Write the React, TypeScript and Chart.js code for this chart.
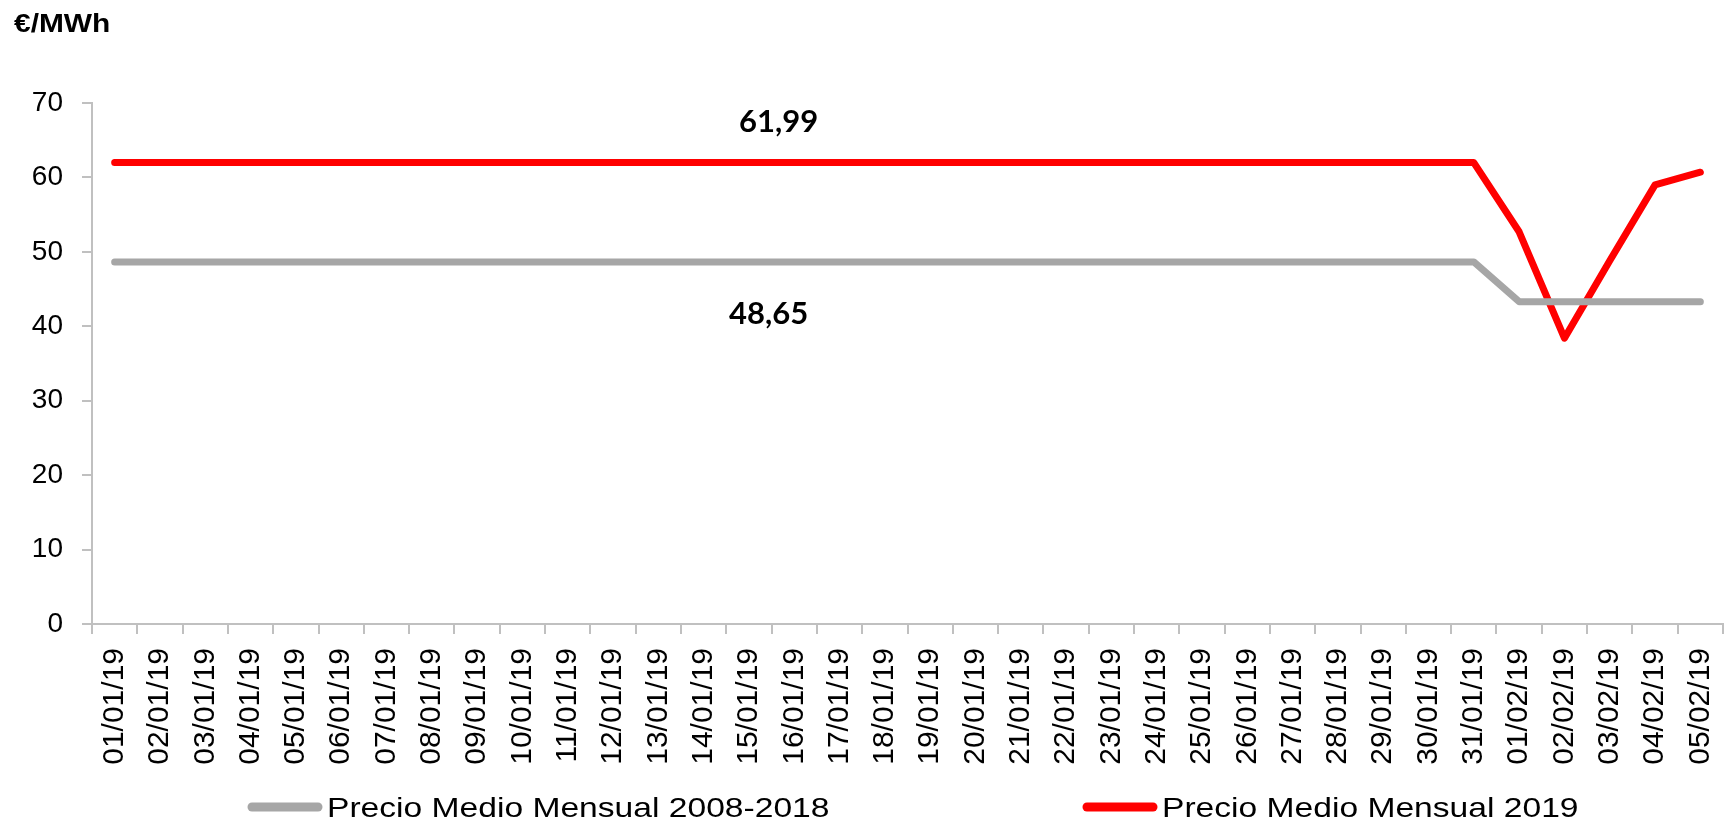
import React, { useEffect, useRef } from "react";
import { Chart, registerables } from "chart.js";

Chart.register(...registerables);

const categories = [
  "01/01/19", "02/01/19", "03/01/19", "04/01/19", "05/01/19", "06/01/19", "07/01/19",
  "08/01/19", "09/01/19", "10/01/19", "11/01/19", "12/01/19", "13/01/19", "14/01/19",
  "15/01/19", "16/01/19", "17/01/19", "18/01/19", "19/01/19", "20/01/19", "21/01/19",
  "22/01/19", "23/01/19", "24/01/19", "25/01/19", "26/01/19", "27/01/19", "28/01/19",
  "29/01/19", "30/01/19", "31/01/19", "01/02/19", "02/02/19", "03/02/19", "04/02/19",
  "05/02/19",
];

const avg20082018 = [
  48.65, 48.65, 48.65, 48.65, 48.65, 48.65, 48.65, 48.65, 48.65, 48.65, 48.65,
  48.65, 48.65, 48.65, 48.65, 48.65, 48.65, 48.65, 48.65, 48.65, 48.65, 48.65,
  48.65, 48.65, 48.65, 48.65, 48.65, 48.65, 48.65, 48.65, 48.65,
  43.3, 43.3, 43.3, 43.3, 43.3,
];

const price2019 = [
  61.99, 61.99, 61.99, 61.99, 61.99, 61.99, 61.99, 61.99, 61.99, 61.99, 61.99,
  61.99, 61.99, 61.99, 61.99, 61.99, 61.99, 61.99, 61.99, 61.99, 61.99, 61.99,
  61.99, 61.99, 61.99, 61.99, 61.99, 61.99, 61.99, 61.99, 61.99,
  52.7, 38.4, 48.8, 59.0, 60.7,
];

const seriesNames = ["Precio Medio Mensual 2008-2018", "Precio Medio Mensual 2019"];
const seriesColors = ["#a6a6a6", "#ff0000"];
const unitLabel = "€/MWh";
const valueLabels = ["61,99", "48,65"];
const yMin = 0;
const yMax = 70;
const yStep = 10;

const FONT = "'Liberation Sans', Arial, sans-serif";

function stretchedText(ctx: any, text: string, x: number, y: number, sx: number) {
  ctx.save();
  ctx.translate(x, y);
  ctx.scale(sx, 1);
  ctx.fillText(text, 0, 0);
  ctx.restore();
}

const overlayPlugin = {
  id: "overlay",
  afterDraw(chart: any) {
    const ctx = chart.ctx;
    const xs = chart.scales.x;
    const ys = chart.scales.y;
    const area = chart.chartArea;
    ctx.save();
    // unit title
    ctx.fillStyle = "#000";
    ctx.font = `bold 26px ${FONT}`;
    ctx.textAlign = "left";
    ctx.textBaseline = "alphabetic";
    stretchedText(ctx, unitLabel, 14, 32, 1.15);

    // value labels
    const xm = (xs.getPixelForValue(14) + xs.getPixelForValue(15)) / 2;
    ctx.font = "bold 31px Lato, 'Open Sans', sans-serif";
    ctx.textAlign = "center";
    ctx.textBaseline = "middle";
    ctx.fillText(valueLabels[0], xm + 7, ys.getPixelForValue(price2019[15]) - 41);
    ctx.fillText(valueLabels[1], xm - 3, ys.getPixelForValue(avg20082018[15]) + 52);

    // legend
    const ly = area.bottom + 183;
    const starts = [area.left + 156, area.left + 991];
    ctx.font = `28px ${FONT}`;
    ctx.textAlign = "left";
    ctx.textBaseline = "middle";
    chart.data.datasets.forEach((ds: any, i: number) => {
      const sx = starts[i];
      ctx.beginPath();
      ctx.strokeStyle = ds.borderColor;
      ctx.lineWidth = 9;
      ctx.lineCap = "round";
      ctx.moveTo(sx + 4, ly);
      ctx.lineTo(sx + 70, ly);
      ctx.stroke();
      ctx.fillStyle = "#000";
      stretchedText(ctx, ds.label, sx + 79, ly + 2, 1.2);
    });
    ctx.restore();
  },
};

export default function App() {
  const canvasRef = useRef<HTMLCanvasElement | null>(null);

  useEffect(() => {
    document.body.style.margin = "0";
    const canvas = canvasRef.current;
    if (!canvas) return;
    const chart = new Chart(canvas, {
      type: "line",
      data: {
        labels: categories,
        datasets: [
          {
            label: seriesNames[0],
            data: avg20082018,
            borderColor: seriesColors[0],
            backgroundColor: seriesColors[0],
            borderWidth: 7,
            pointRadius: 0,
            tension: 0,
            borderCapStyle: "round",
            borderJoinStyle: "round",
          },
          {
            label: seriesNames[1],
            data: price2019,
            borderColor: seriesColors[1],
            backgroundColor: seriesColors[1],
            borderWidth: 7,
            pointRadius: 0,
            tension: 0,
            borderCapStyle: "round",
            borderJoinStyle: "round",
          },
        ],
      },
      options: {
        responsive: false,
        animation: false,
        devicePixelRatio: 1,
        layout: { padding: { top: 103, right: 9, left: 0, bottom: 0 } },
        plugins: {
          legend: { display: false },
          title: { display: false },
          tooltip: { enabled: false },
        },
        scales: {
          x: {
            offset: true,
            afterFit: (s: any) => {
              s.height = 200;
              s.paddingLeft = 0;
              s.paddingRight = 0;
            },
            border: { color: "#c0c0c0", width: 2 },
            grid: {
              offset: true,
              drawOnChartArea: false,
              drawTicks: true,
              tickLength: 10,
              color: "#c0c0c0",
              lineWidth: 2,
            },
            ticks: {
              autoSkip: false,
              maxRotation: 90,
              minRotation: 90,
              padding: 14,
              color: "#000",
              font: { family: FONT, size: 30 },
            },
          },
          y: {
            min: yMin,
            max: yMax,
            afterFit: (s: any) => {
              s.width = 92;
              s.paddingTop = 0;
              s.paddingBottom = 0;
            },
            border: { color: "#c0c0c0", width: 2 },
            grid: {
              drawOnChartArea: false,
              drawTicks: true,
              tickLength: 10,
              color: "#c0c0c0",
              lineWidth: 2,
            },
            ticks: {
              stepSize: yStep,
              padding: 19,
              color: "#000",
              font: { family: FONT, size: 28 },
            },
          },
        },
      },
      plugins: [overlayPlugin],
    });
    return () => chart.destroy();
  }, []);

  return (
    <div style={{ position: "relative", width: 1732, height: 824 }}>
      <canvas ref={canvasRef} width={1732} height={824} style={{ display: "block" }} />
    </div>
  );
}
